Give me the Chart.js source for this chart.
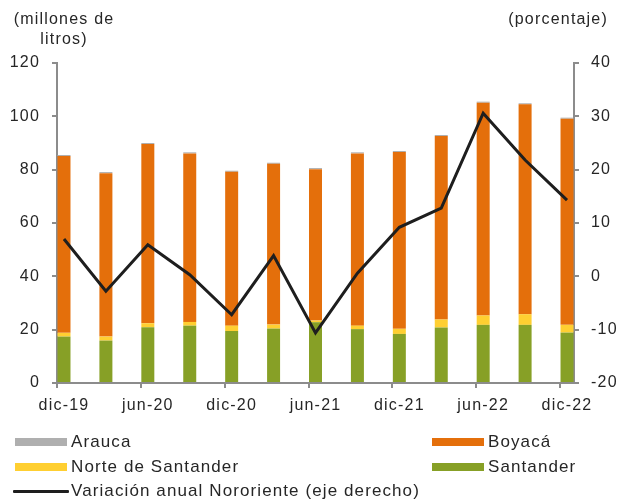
<!DOCTYPE html>
<html><head><meta charset="utf-8">
<script src="https://cdn.jsdelivr.net/npm/chart.js@4.4.1/dist/chart.umd.min.js"></script>
<style>
html,body{margin:0;padding:0;background:#fff;}
#wrap{position:relative;width:618px;height:501px;overflow:hidden;}
canvas{position:absolute;left:0;top:0;}
.lg{position:absolute;font:17px "Liberation Sans",Arial,sans-serif;letter-spacing:1.1px;color:#262626;white-space:nowrap;line-height:20px;}
.sw{position:absolute;}
</style></head><body>
<div id="wrap"><canvas id="c" width="618" height="501"></canvas><div id="legend"></div></div>
<script>
// ---- data ----
const quarters = ['dic-19','mar-20','jun-20','sep-20','dic-20','mar-21','jun-21','sep-21','dic-21','mar-22','jun-22','sep-22','dic-22'];
const tickLabels = ['dic-19','jun-20','dic-20','jun-21','dic-21','jun-22','dic-22'];
const santander      = [17.4, 15.9, 20.9, 21.5, 19.5, 20.4, 22.8, 20.2, 18.4, 20.8, 21.8, 21.8, 18.9];
const norteSantander = [1.4, 1.5, 1.5, 1.4, 2.0, 1.5, 0.6, 1.3, 1.9, 3.0, 3.5, 4.0, 2.9];
const boyaca         = [66.3, 61.3, 67.2, 63.2, 57.7, 60.3, 56.8, 64.6, 66.3, 68.8, 79.8, 78.7, 77.3];
const arauca         = [0.4, 0.4, 0.4, 0.4, 0.4, 0.4, 0.4, 0.4, 0.4, 0.4, 0.4, 0.4, 0.4];
const variacionAnual = [7.0, -2.8, 5.9, 0.3, -7.2, 3.9, -10.6, 0.6, 9.2, 12.8, 30.6, 21.8, 14.3];
const leftTitle = ['(millones de', 'litros)'];
const rightTitle = '(porcentaje)';

// monthly slots (date axis): each quarter sits on its month
const monthsPerQuarter = 3;
const nSlots = (quarters.length - 1) * monthsPerQuarter + 1;
const slotLabels = Array.from({length: nSlots}, (_, i) => (i % monthsPerQuarter === 0 ? quarters[i / monthsPerQuarter] : ''));
function toSlots(arr) {
  const out = new Array(nSlots).fill(null);
  arr.forEach((v, i) => { out[i * monthsPerQuarter] = v; });
  return out;
}

const TXT = '#262626';
const AX = '#8c8c8c';
const FONT = {family: 'Liberation Sans', size: 16};

const spacingPlugin = {
  id: 'spacing',
  beforeDraw(chart) { chart.ctx.letterSpacing = '1.2px'; },
  afterDraw(chart) {
    const ctx = chart.ctx;
    ctx.save();
    ctx.letterSpacing = '1.2px';
    ctx.font = '16px "Liberation Sans"';
    ctx.fillStyle = TXT;
    ctx.textBaseline = 'alphabetic';
    ctx.textAlign = 'center';
    ctx.fillText(leftTitle[0], 64, 24);
    ctx.fillText(leftTitle[1], 64, 44);
    ctx.textAlign = 'right';
    ctx.fillText(rightTitle, 608, 24);
    ctx.restore();
  }
};

const barCommon = {type: 'bar', yAxisID: 'y', order: 1, barPercentage: 0.93, categoryPercentage: 1, borderWidth: 0};
const chart = new Chart(document.getElementById('c'), {
  data: {
    labels: slotLabels,
    datasets: [
      {...barCommon, label: 'Santander', data: toSlots(santander), backgroundColor: '#87A026'},
      {...barCommon, label: 'Norte de Santander', data: toSlots(norteSantander), backgroundColor: '#FFCF31'},
      {...barCommon, label: 'Boyacá', data: toSlots(boyaca), backgroundColor: '#E46F0B'},
      {...barCommon, label: 'Arauca', data: toSlots(arauca), backgroundColor: '#AFAFAF'},
      {type: 'line', label: 'Variación anual Nororiente (eje derecho)', data: toSlots(variacionAnual), yAxisID: 'y2', order: 0,
       borderColor: '#1e1e1e', borderWidth: 3, pointRadius: 0, spanGaps: true, tension: 0, borderJoinStyle: 'miter'}
    ]
  },
  options: {
    responsive: false,
    devicePixelRatio: 1,
    animation: false,
    layout: {padding: {top: 63, left: 0, right: 0, bottom: 0}},
    plugins: {legend: {display: false}, tooltip: {enabled: false}},
    scales: {
      x: {
        type: 'category', stacked: true, offset: true,
        grid: {offset: true, drawOnChartArea: false, tickLength: 5, lineWidth: 2,
               color: (c) => (tickLabels.includes(slotLabels[c.index]) ? AX : 'rgba(0,0,0,0)')},
        border: {color: AX, width: 2},
        ticks: {autoSkip: false, maxRotation: 0, minRotation: 0, padding: 8, font: FONT, color: TXT,
                callback: (v, i) => (tickLabels.includes(slotLabels[i]) ? slotLabels[i] : '')},
        afterFit: (s) => { s.height = 118; }
      },
      y: {
        position: 'left', stacked: true, min: 0, max: 120,
        ticks: {stepSize: 20, padding: 12, font: FONT, color: TXT},
        grid: {drawOnChartArea: false, tickLength: 5, lineWidth: 2, color: AX},
        border: {color: AX, width: 2},
        afterFit: (s) => { s.width = 57; }
      },
      y2: {
        position: 'right', min: -20, max: 40,
        ticks: {stepSize: 10, padding: 12, font: FONT, color: TXT},
        grid: {drawOnChartArea: false, tickLength: 5, lineWidth: 2, color: AX},
        border: {color: AX, width: 2},
        afterFit: (s) => { s.width = 44; }
      }
    }
  },
  plugins: [spacingPlugin]
});

// ---- HTML legend built from the datasets ----
const legendLayout = [
  {label: 'Arauca', x: 15, y: 442},
  {label: 'Boyacá', x: 432, y: 442},
  {label: 'Norte de Santander', x: 15, y: 467},
  {label: 'Santander', x: 432, y: 467},
  {label: 'Variación anual Nororiente (eje derecho)', x: 13, y: 491}
];
const lg = document.getElementById('legend');
legendLayout.forEach((it) => {
  const ds = chart.data.datasets.find((d) => d.label === it.label);
  const sw = document.createElement('div');
  sw.className = 'sw';
  if (ds.type === 'line') {
    sw.style.cssText = `left:${it.x}px;top:${it.y - 1.5}px;width:${56}px;height:3px;background:${ds.borderColor};border-radius:1px;`;
  } else {
    sw.style.cssText = `left:${it.x}px;top:${it.y - 4}px;width:52px;height:8px;background:${ds.backgroundColor};`;
  }
  lg.appendChild(sw);
  const t = document.createElement('div');
  t.className = 'lg';
  t.textContent = it.label;
  t.style.left = (it.x + (ds.type === 'line' ? 58 : 56)) + 'px';
  t.style.top = (it.y - 10) + 'px';
  lg.appendChild(t);
});
</script>
</body></html>
